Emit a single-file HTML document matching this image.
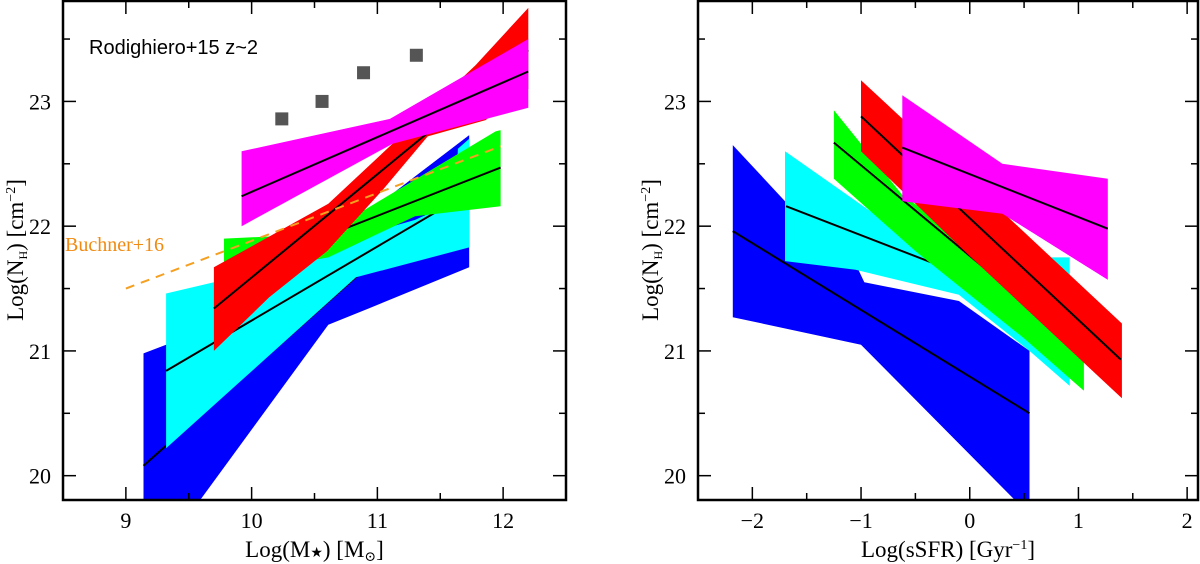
<!DOCTYPE html>
<html><head><meta charset="utf-8"><style>
html,body{margin:0;padding:0;background:#fff;}
svg{display:block;}
text{font-family:"Liberation Serif","DejaVu Serif",serif;}
</style></head><body>
<svg id="chart" width="1200" height="564" xmlns="http://www.w3.org/2000/svg"></svg>
<script>
// ===== Data: left panel (Log M* vs Log NH) =====
const leftXTicks = [9, 10, 11, 12];
const yTicks = [20, 21, 22, 23];
const bandColors = ["#0000ff", "#00ffff", "#00ff00", "#ff0000", "#ff00ff"];
const bandNames = ["blue", "cyan", "green", "red", "magenta"];
const leftBlueUpper = [[9.14,20.98],[9.32,21.05],[10.6,21.86],[11.08,22.23],[11.73,22.73]];
const leftBlueLower = [[9.14,19.5],[9.37,19.5],[10.61,21.21],[10.93,21.34],[11.73,21.67]];
const leftBlueLine = [9.14,20.08,11.73,22.4];
const leftCyanUpper = [[9.32,21.46],[9.7,21.55],[10.6,21.85],[11.3,22.05],[11.62,22.2],[11.64,22.62],[11.73,22.7]];
const leftCyanLower = [[9.32,20.22],[10.83,21.59],[11.73,21.83]];
const leftCyanLine = [9.32,20.84,11.73,22.27];
const leftGreenUpper = [[9.78,21.9],[10.61,21.94],[10.88,22.12],[11.94,22.76],[11.98,22.77]];
const leftGreenLower = [[9.78,21.6],[10.61,21.75],[11.3,22.08],[11.98,22.16]];
const leftGreenLine = [9.78,21.6,11.98,22.47];
const leftRedUpper = [[9.7,21.67],[10.61,22.18],[11.12,22.66],[11.78,23.29],[12.2,23.75]];
const leftRedLower = [[9.7,21.0],[10.14,21.43],[10.6,21.8],[11.05,22.3],[11.4,22.72],[11.86,22.85],[12.2,23.1]];
const leftRedLine = [9.7,21.34,12.2,23.41];
const leftMagUpper = [[9.92,22.6],[11.1,22.86],[12.2,23.5]];
const leftMagLower = [[9.92,22.0],[11.12,22.66],[12.2,22.95]];
const leftMagLine = [9.92,22.24,12.2,23.24];
const squaresX = [10.24, 10.56, 10.89, 11.31];
const squaresY = [22.86, 23.0, 23.23, 23.37];
const buchnerLine = [9.0,21.5,11.98,22.64];

// ===== Data: right panel (Log sSFR vs Log NH) =====
const rightXTicks = [-2, -1, 0, 1, 2];
const rightBlueUpper = [[-2.18,22.65],[-1.7,22.2],[-1.04,21.68],[-0.97,21.55],[-0.1,21.4],[0.55,21.0]];
const rightBlueLower = [[-2.18,21.27],[-1.0,21.05],[0.42,19.8],[0.55,19.5]];
const rightBlueLine = [-2.18,21.96,0.55,20.5];
const rightCyanUpper = [[-1.7,22.6],[-0.8,22.05],[-0.45,21.87],[0.55,21.75],[0.92,21.75]];
const rightCyanLower = [[-1.7,21.72],[-1.05,21.65],[-0.1,21.45],[0.55,21.0],[0.92,20.72]];
const rightCyanLine = [-1.69,22.16,0.09,21.56];
const rightGreenUpper = [[-1.25,22.93],[-0.62,22.25],[0.2,21.75],[1.05,21.0]];
const rightGreenLower = [[-1.25,22.38],[-0.5,21.8],[0.5,21.1],[1.05,20.68]];
const rightGreenLine = [-1.25,22.67,1.05,21.0];
const rightRedUpper = [[-1.0,23.17],[0.0,22.36],[1.4,21.22]];
const rightRedLower = [[-1.0,22.6],[0.0,21.76],[1.4,20.62]];
const rightRedLine = [-1.0,22.88,1.39,20.93];
const rightMagUpper = [[-0.62,23.05],[0.3,22.5],[1.27,22.38]];
const rightMagLower = [[-0.62,22.2],[0.3,22.1],[1.27,21.57]];
const rightMagLine = [-0.62,22.63,1.27,21.98];

const NS = "http://www.w3.org/2000/svg";
const svg = document.getElementById("chart");
function mk(tag, attrs, parent){ const e=document.createElementNS(NS,tag); for(const k in attrs) e.setAttribute(k,attrs[k]); (parent||svg).appendChild(e); return e; }

function panel(opt){
  const L=opt.left, R=opt.right, T=1, B=500;
  const sx = v => L + (v-opt.xmin)/(opt.xmax-opt.xmin)*(R-L);
  const sy = v => B - (v-19.805)/(23.805-19.805)*(B-T);
  const g = mk("g",{});
  
  
  const clipId = opt.name+"-clip";
  const cp = mk("clipPath",{id:clipId},g); mk("rect",{x:L,y:T,width:R-L,height:B-T},cp);
  const plot = mk("g",{"clip-path":"url(#"+clipId+")"},g);
  opt.bands.forEach((b,i)=>{
    const pts = b.upper.concat(b.lower.slice().reverse()).map(p=>sx(p[0]).toFixed(1)+","+sy(p[1]).toFixed(1)).join(" ");
    const poly = mk("polygon",{points:pts,fill:bandColors[i]},plot);
    
    
    const ln = mk("line",{x1:sx(b.line[0]),y1:sy(b.line[1]),x2:sx(b.line[2]),y2:sy(b.line[3]),stroke:"#000","stroke-width":2},plot);
    
    
  });
  if(opt.extra) opt.extra(plot,sx,sy);
  const fr = mk("rect",{x:L,y:T,width:R-L,height:B-T,fill:"none",stroke:"#000","stroke-width":2.5},g);
  
  
  for(let v=Math.ceil(opt.xmin*2)/2; v<=opt.xmax+1e-9; v+=0.5){
    const major = Math.abs(v-Math.round(v))<1e-9;
    const len = major?13:7;
    mk("line",{x1:sx(v),y1:B,x2:sx(v),y2:B-len,stroke:"#000","stroke-width":1.5},g);
    mk("line",{x1:sx(v),y1:T,x2:sx(v),y2:T+len,stroke:"#000","stroke-width":1.5},g);
  }
  opt.xticks.forEach(v=>{
    const t = mk("text",{x:sx(v),y:528,"font-size":22,"text-anchor":"middle"},g);
    t.textContent = v<0 ? "\u2212"+(-v) : String(v);
    
    
  });
  for(let v=20; v<=23.5+1e-9; v+=0.5){
    const major = Math.abs(v-Math.round(v))<1e-9;
    const len = major?13:7;
    mk("line",{x1:L,y1:sy(v),x2:L+len,y2:sy(v),stroke:"#000","stroke-width":1.5},g);
    mk("line",{x1:R,y1:sy(v),x2:R-len,y2:sy(v),stroke:"#000","stroke-width":1.5},g);
  }
  yTicks.forEach(v=>{
    const t = mk("text",{x:L-12,y:sy(v)+8,"font-size":22,"text-anchor":"end"},g);
    t.textContent = String(v);
    
    
  });
  const xl = mk("text",{x:(L+R)/2,y:557,"font-size":23,"text-anchor":"middle"},g);
  xl.innerHTML = opt.xlabel;
  
  
  const yl = mk("text",{x:0,y:0,"font-size":23,"text-anchor":"middle",transform:"translate("+(L-40)+",250) rotate(-90)"},g);
  yl.innerHTML = 'Log(N<tspan font-size="12" dy="4">H</tspan><tspan dy="-4">)  [cm</tspan><tspan font-size="14" dy="-8">\u22122</tspan><tspan dy="8">]</tspan>';
  
  
}

panel({name:"mass-panel", left:63, right:566, xmin:8.5, xmax:12.5, xticks:leftXTicks,
  xlabel:'Log(M<tspan font-size="14">\u2605</tspan>)  [M<tspan font-size="14" dy="4">\u2299</tspan><tspan dy="-4">]</tspan>',
  bands:[
    {upper:leftBlueUpper,lower:leftBlueLower,line:leftBlueLine},
    {upper:leftCyanUpper,lower:leftCyanLower,line:leftCyanLine},
    {upper:leftGreenUpper,lower:leftGreenLower,line:leftGreenLine},
    {upper:leftRedUpper,lower:leftRedLower,line:leftRedLine},
    {upper:leftMagUpper,lower:leftMagLower,line:leftMagLine}],
  extra:(plot,sx,sy)=>{
    const bl = mk("line",{x1:sx(buchnerLine[0]),y1:sy(buchnerLine[1]),x2:sx(buchnerLine[2]),y2:sy(buchnerLine[3]),stroke:"#f5a020","stroke-width":2,"stroke-dasharray":"9,7"},plot);
    
    
    squaresX.forEach((x,i)=>{
      const s = mk("rect",{x:sx(x)-6.5,y:sy(squaresY[i])-6.5,width:13,height:13,fill:"#555"},plot);
      
      
    });
  }});
const lab1 = mk("text",{x:89,y:54,"font-size":20,style:"font-family:'Liberation Sans',sans-serif"});
lab1.textContent = "Rodighiero+15  z~2";


const lab2 = mk("text",{x:65,y:251,"font-size":20,fill:"#f08a10"});
lab2.textContent = "Buchner+16";



panel({name:"ssfr-panel", left:698, right:1198, xmin:-2.5, xmax:2.1, xticks:rightXTicks,
  xlabel:'Log(sSFR)  [Gyr<tspan font-size="14" dy="-8">\u22121</tspan><tspan dy="8">]</tspan>',
  bands:[
    {upper:rightBlueUpper,lower:rightBlueLower,line:rightBlueLine},
    {upper:rightCyanUpper,lower:rightCyanLower,line:rightCyanLine},
    {upper:rightGreenUpper,lower:rightGreenLower,line:rightGreenLine},
    {upper:rightRedUpper,lower:rightRedLower,line:rightRedLine},
    {upper:rightMagUpper,lower:rightMagLower,line:rightMagLine}]});
</script>
</body></html>
